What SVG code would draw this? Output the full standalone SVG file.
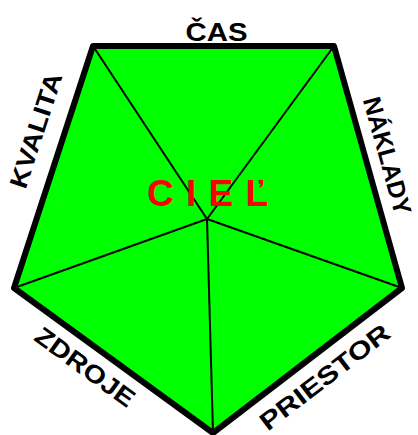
<svg xmlns="http://www.w3.org/2000/svg" width="418" height="435" viewBox="0 0 418 435">
<style>
.lbl{font-family:"Liberation Sans",Arial,sans-serif;font-weight:bold;font-size:25px;fill:#000}
.goal{font-family:"Liberation Sans",Arial,sans-serif;font-weight:bold;font-size:37px;fill:#FF0000}
.spoke{stroke:#000;stroke-width:2;fill:none}
</style>
<g id="pentagon">
<polygon points="93,46 334,46 402,288 213,433 14,288" fill="#00FF00" stroke="#000" stroke-width="6" stroke-linejoin="round"/>
</g>
<g id="connectors">
<line class="spoke" x1="207" y1="219" x2="93" y2="46"/>
<line class="spoke" x1="207" y1="219" x2="334" y2="46"/>
<line class="spoke" x1="207" y1="219" x2="402" y2="288"/>
<line class="spoke" x1="207" y1="219" x2="213" y2="433"/>
<line class="spoke" x1="207" y1="219" x2="14" y2="288"/>
</g>
<g id="goal">
<text class="goal" x="147" y="206" textLength="121" lengthAdjust="spacing">C I E Ľ</text>
</g>
<g id="cas">
<text class="lbl" x="216.5" y="41" text-anchor="middle" textLength="62" lengthAdjust="spacingAndGlyphs">ČAS</text>
</g>
<g id="kvalita">
<text class="lbl" transform="translate(44,133) rotate(-72)" text-anchor="middle" textLength="120" lengthAdjust="spacingAndGlyphs">KVALITA</text>
</g>
<g id="naklady">
<text class="lbl" transform="translate(379,158) rotate(74.5)" text-anchor="middle" textLength="121" lengthAdjust="spacingAndGlyphs">NÁKLADY</text>
</g>
<g id="zdroje">
<text class="lbl" transform="translate(80,374) rotate(36)" text-anchor="middle" textLength="117" lengthAdjust="spacingAndGlyphs">ZDROJE</text>
</g>
<g id="priestor">
<text class="lbl" transform="translate(330,384) rotate(-37.5)" text-anchor="middle" textLength="157" lengthAdjust="spacingAndGlyphs">PRIESTOR</text>
</g>
</svg>
